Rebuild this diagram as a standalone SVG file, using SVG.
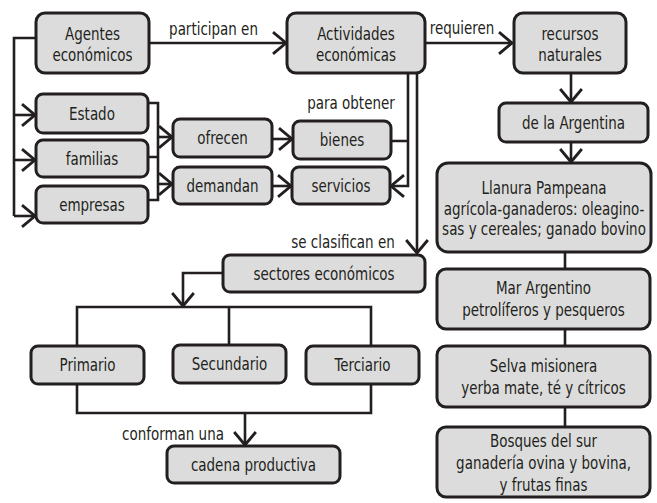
<svg xmlns="http://www.w3.org/2000/svg" width="657" height="503" viewBox="0 0 657 503">
<defs>
<style>
.n{fill:#dcdcdc;stroke:#231f20;stroke-width:3}
.c{fill:none;stroke:#231f20;stroke-width:2.6}
text{font-family:"Liberation Sans Narrow","DejaVu Sans Condensed","Liberation Sans",sans-serif;font-stretch:condensed;font-size:17px;fill:#231f20;text-anchor:middle}
</style>
<marker id="a" markerUnits="userSpaceOnUse" markerWidth="20" markerHeight="26" viewBox="-14 -12 16 24" refX="0" refY="0" orient="auto">
<path d="M-12,-10 L0,0 L-12,10" fill="none" stroke="#231f20" stroke-width="2.6"/>
</marker>
</defs>
<rect width="657" height="503" fill="#fff"/>
<g id="connectors">
<path class="c" d="M36,38 H14 V216"/>
<path class="c" d="M14,115 H35" marker-end="url(#a)"/>
<path class="c" d="M14,160 H35" marker-end="url(#a)"/>
<path class="c" d="M14,216 H35" marker-end="url(#a)"/>
<path class="c" d="M148,103 H158 V200 H148 M148,157 H158"/>
<path class="c" d="M158,137 H172" marker-end="url(#a)"/>
<path class="c" d="M158,184 H172" marker-end="url(#a)"/>
<path class="c" d="M272,139 H292" marker-end="url(#a)"/>
<path class="c" d="M272,186 H291" marker-end="url(#a)"/>
<path class="c" d="M149,43 H286" marker-end="url(#a)"/>
<path class="c" d="M425,43 H512" marker-end="url(#a)"/>
<path class="c" d="M391,141 H408 M408,73 V186 H391" marker-end="url(#a)"/>
<path class="c" d="M417,73 V253" marker-end="url(#a)"/>
<path class="c" d="M571,73 V102" marker-end="url(#a)"/>
<path class="c" d="M571,142 V162" marker-end="url(#a)"/>
<path class="c" d="M565,252 V269 M565,329 V346 M565,407 V427"/>
<path class="c" d="M223,273 H183 V306" marker-end="url(#a)"/>
<path class="c" d="M77,346 V307 H371 V346 M229,307 V345"/>
<path class="c" d="M77,384 V413 H371 V384"/>
<path class="c" d="M245,413 V445" marker-end="url(#a)"/>
</g>
<g id="labels">
<text transform="translate(213.5,35) scale(0.88,1)">participan en</text>
<text transform="translate(462,34) scale(0.88,1)">requieren</text>
<text transform="translate(351,109) scale(0.88,1)">para obtener</text>
<text transform="translate(343,248) scale(0.88,1)">se clasifican en</text>
<text transform="translate(173,440) scale(0.88,1)">conforman una</text>
</g>
<g id="agentes"><rect class="n" x="36" y="13" width="113" height="60" rx="9"/><text transform="translate(92.5,40) scale(0.88,1)">Agentes</text><text transform="translate(92.5,61) scale(0.88,1)">económicos</text></g>
<g id="actividades"><rect class="n" x="287" y="13" width="138" height="60" rx="9"/><text transform="translate(356,40) scale(0.88,1)">Actividades</text><text transform="translate(356,61) scale(0.88,1)">económicas</text></g>
<g id="recursos"><rect class="n" x="514" y="13" width="112" height="60" rx="9"/><text transform="translate(570,40) scale(0.88,1)">recursos</text><text transform="translate(570,61) scale(0.88,1)">naturales</text></g>
<g id="estado"><rect class="n" x="36" y="94" width="112" height="39" rx="7"/><text transform="translate(92,120) scale(0.88,1)">Estado</text></g>
<g id="familias"><rect class="n" x="36" y="140" width="112" height="37" rx="7"/><text transform="translate(92,165) scale(0.88,1)">familias</text></g>
<g id="empresas"><rect class="n" x="36" y="186" width="112" height="37" rx="7"/><text transform="translate(92,211) scale(0.88,1)">empresas</text></g>
<g id="ofrecen"><rect class="n" x="173" y="119" width="99" height="38" rx="7"/><text transform="translate(222.5,144) scale(0.88,1)">ofrecen</text></g>
<g id="demandan"><rect class="n" x="173" y="167" width="99" height="37" rx="7"/><text transform="translate(222.5,192) scale(0.88,1)">demandan</text></g>
<g id="bienes"><rect class="n" x="293" y="121" width="98" height="38" rx="7"/><text transform="translate(342,146) scale(0.88,1)">bienes</text></g>
<g id="servicios"><rect class="n" x="292" y="167" width="98" height="37" rx="7"/><text transform="translate(341,192) scale(0.88,1)">servicios</text></g>
<g id="argentina"><rect class="n" x="499" y="103" width="149" height="39" rx="7"/><text transform="translate(573.5,129) scale(0.88,1)">de la Argentina</text></g>
<g id="llanura"><rect class="n" x="437" y="163" width="214" height="89" rx="11"/><text transform="translate(544,194) scale(0.88,1)">Llanura Pampeana</text><text transform="translate(544,215) scale(0.88,1)">agrícola-ganaderos: oleagino-</text><text transform="translate(544,235) scale(0.88,1)">sas y cereales; ganado bovino</text></g>
<g id="mar"><rect class="n" x="437" y="269" width="213" height="60" rx="9"/><text transform="translate(543.5,294) scale(0.88,1)">Mar Argentino</text><text transform="translate(543.5,316) scale(0.88,1)">petrolíferos y pesqueros</text></g>
<g id="selva"><rect class="n" x="437" y="346" width="213" height="61" rx="9"/><text transform="translate(543.5,372) scale(0.88,1)">Selva misionera</text><text transform="translate(543.5,394) scale(0.88,1)">yerba mate, té y cítricos</text></g>
<g id="bosques"><rect class="n" x="437" y="427" width="213" height="70" rx="9"/><text transform="translate(543.5,447) scale(0.88,1)">Bosques del sur</text><text transform="translate(543.5,469) scale(0.88,1)">ganadería ovina y bovina,</text><text transform="translate(543.5,491) scale(0.88,1)">y frutas finas</text></g>
<g id="sectores"><rect class="n" x="223" y="255" width="202" height="37" rx="7"/><text transform="translate(324,280) scale(0.88,1)">sectores económicos</text></g>
<g id="primario"><rect class="n" x="31" y="346" width="113" height="38" rx="7"/><text transform="translate(87.5,371) scale(0.88,1)">Primario</text></g>
<g id="secundario"><rect class="n" x="173" y="345" width="113" height="38" rx="7"/><text transform="translate(229.5,370) scale(0.88,1)">Secundario</text></g>
<g id="terciario"><rect class="n" x="306" y="346" width="113" height="38" rx="7"/><text transform="translate(362.5,371) scale(0.88,1)">Terciario</text></g>
<g id="cadena"><rect class="n" x="167" y="446" width="173" height="37" rx="7"/><text transform="translate(253.5,471) scale(0.88,1)">cadena productiva</text></g>
</svg>
